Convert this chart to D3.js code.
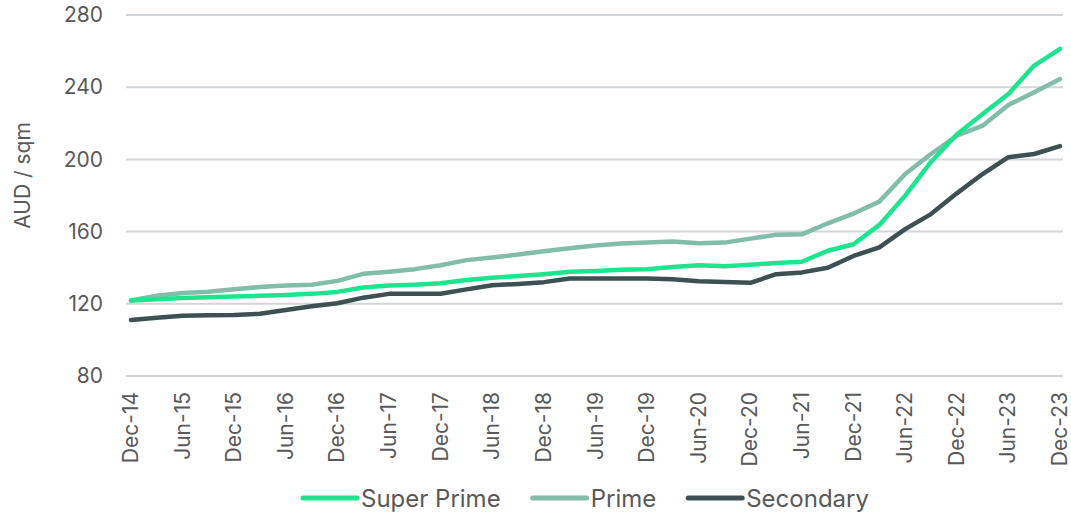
<!DOCTYPE html>
<html>
<head>
<meta charset="utf-8">
<script src="https://cdn.jsdelivr.net/npm/d3@7"></script>
<style>
  html, body { margin: 0; padding: 0; background: #fff; }
  svg { display: block; font-family: Inter, "Noto Sans", sans-serif; }
</style>
</head>
<body>
<svg id="chart" width="1071" height="516"></svg>
<script>
// Quarterly periods, Dec-14 to Dec-23
const quarters = [
  "Dec-14","Mar-15","Jun-15","Sep-15","Dec-15","Mar-16","Jun-16","Sep-16",
  "Dec-16","Mar-17","Jun-17","Sep-17","Dec-17","Mar-18","Jun-18","Sep-18",
  "Dec-18","Mar-19","Jun-19","Sep-19","Dec-19","Mar-20","Jun-20","Sep-20",
  "Dec-20","Mar-21","Jun-21","Sep-21","Dec-21","Mar-22","Jun-22","Sep-22",
  "Dec-22","Mar-23","Jun-23","Sep-23","Dec-23"
];

// Rents, AUD per sqm
const superPrime = [
  121.8,122.5,123.2,123.6,124.0,124.4,124.9,125.5,126.6,129.0,130.1,130.6,
  131.4,133.2,134.4,135.4,136.4,137.7,138.2,138.8,139.2,140.4,141.4,140.8,
  141.7,142.6,143.3,149.4,153.0,163.7,179.9,198.6,213.8,225.2,236.2,252.0,
  261.2
];
const prime = [
  121.8,124.5,126.0,126.7,128.0,129.3,130.1,130.6,132.7,136.6,137.8,139.2,
  141.4,144.2,145.6,147.3,149.1,150.8,152.3,153.4,153.9,154.5,153.6,153.9,
  156.1,158.2,158.5,164.6,170.0,176.6,191.9,203.0,213.1,218.7,230.1,237.2,
  244.5
];
const secondary = [
  111.0,112.3,113.4,113.7,113.8,114.5,116.6,118.6,120.3,123.4,125.5,125.6,
  125.6,128.0,130.3,131.0,132.0,134.0,134.0,134.0,134.0,133.6,132.5,132.1,
  131.6,136.4,137.4,140.0,146.5,151.3,161.4,169.7,181.2,191.9,201.2,203.0,
  207.4
];

const yTicks = [80, 120, 160, 200, 240, 280];
const xTickLabels = quarters.filter((d, i) => i % 2 === 0);

const seriesNames = ["Super Prime", "Prime", "Secondary"];
const seriesColors = ["#1de48e", "#82bcaa", "#3e5051"];
const series = [superPrime, prime, secondary];

const svg = d3.select("#chart");
const plot = { left: 126, right: 1063, top: 15, bottom: 376 };

const x = d3.scalePoint()
  .domain(quarters)
  .range([131, 1060]);

const y = d3.scaleLinear()
  .domain([80, 280])
  .range([plot.bottom, plot.top]);

// Horizontal gridlines
svg.append("g")
  .selectAll("line")
  .data(yTicks)
  .join("line")
  .attr("x1", plot.left)
  .attr("x2", plot.right)
  .attr("y1", d => y(d))
  .attr("y2", d => y(d))
  .attr("stroke", "#d2d6d8")
  .attr("stroke-width", 2);

// Y axis labels
const yAxis = d3.axisLeft(y).tickValues(yTicks).tickSize(0).tickPadding(0);
const gy = svg.append("g")
  .attr("transform", "translate(103,0)")
  .call(yAxis);
gy.select(".domain").remove();
gy.selectAll("text")
  .attr("font-size", 21)
  .attr("fill", "#595959")
  .attr("font-family", "Inter, sans-serif");

// X axis labels, rotated
const xAxis = d3.axisBottom(x).tickValues(xTickLabels).tickSize(0).tickPadding(0);
const gx = svg.append("g")
  .attr("transform", `translate(0,${plot.bottom})`)
  .call(xAxis);
gx.select(".domain").remove();
gx.selectAll("text")
  .attr("font-size", 21)
  .attr("fill", "#595959")
  .attr("font-family", "Inter, sans-serif")
  .attr("text-anchor", "end")
  .attr("dy", null)
  .attr("y", 0)
  .attr("transform", "translate(-1,16) rotate(-90)")
  .attr("x", 0)
  .attr("dominant-baseline", "central");

// Y axis title
svg.append("text")
  .attr("transform", `translate(22,${(y(80) + y(280)) / 2 - 20}) rotate(-90)`)
  .attr("text-anchor", "middle")
  .attr("dominant-baseline", "central")
  .attr("font-size", 21)
  .attr("fill", "#595959")
  .text("AUD / sqm");

// Series lines
const line = d3.line()
  .x((d, i) => x(quarters[i]))
  .y(d => y(d));

svg.append("g")
  .selectAll("path")
  .data(series.map((s, k) => ({ values: s, color: seriesColors[k] })).reverse())
  .join("path")
  .attr("d", d => line(d.values))
  .attr("fill", "none")
  .attr("stroke", d => d.color)
  .attr("stroke-width", 4.5)
  .attr("stroke-linejoin", "round")
  .attr("stroke-linecap", "round");

// Legend
const legend = svg.append("g").attr("transform", "translate(0,498)");
let cursor = 303;
seriesNames.forEach((name, k) => {
  const g = legend.append("g").attr("transform", `translate(${cursor},0)`);
  g.append("line")
    .attr("x1", 0).attr("x2", 54)
    .attr("y1", 0).attr("y2", 0)
    .attr("stroke", seriesColors[k])
    .attr("stroke-width", 5)
    .attr("stroke-linecap", "round");
  const t = g.append("text")
    .attr("x", 58)
    .attr("dominant-baseline", "central")
    .attr("font-size", 24)
    .attr("fill", "#595959")
    .text(name);
  cursor += 58 + t.node().getComputedTextLength() + 32;
});
</script>
</body>
</html>
